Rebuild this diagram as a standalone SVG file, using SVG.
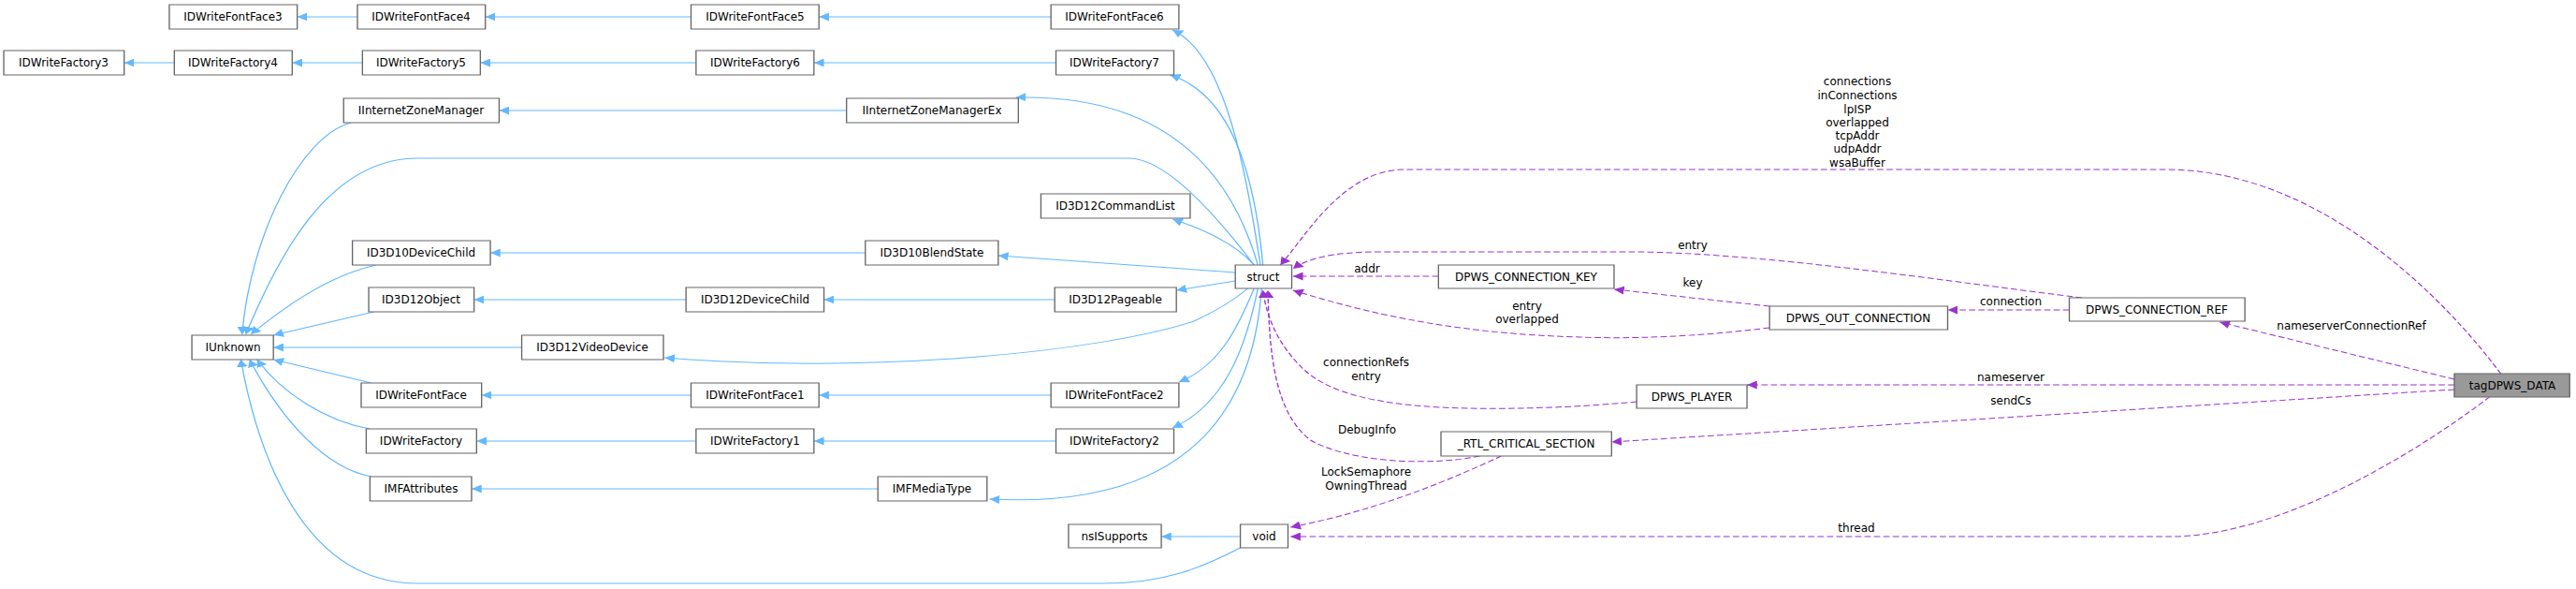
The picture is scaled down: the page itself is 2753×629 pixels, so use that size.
<svg xmlns="http://www.w3.org/2000/svg" width="2753" height="629" viewBox="0 0 2753 629">
<style>
.n rect{fill:#fff;stroke:#666;stroke-width:1}
.n rect.main{fill:#999}
text{font-family:"DejaVu Sans",sans-serif;font-size:12px;fill:#000;text-anchor:middle}
.b{fill:none;stroke:#63b8ff;stroke-width:1;marker-end:url(#ab)}
.p{fill:none;stroke:#9a32cd;stroke-width:1;stroke-dasharray:5,2.5;marker-end:url(#ap)}
</style>
<defs>
<marker id="ab" markerUnits="userSpaceOnUse" markerWidth="10" markerHeight="9" refX="8" refY="4.5" orient="auto"><path d="M0,0 L8,4.5 L0,9 Z" fill="#63b8ff"/></marker>
<marker id="ap" markerUnits="userSpaceOnUse" markerWidth="10" markerHeight="9" refX="8" refY="4.5" orient="auto"><path d="M0,0 L8,4.5 L0,9 Z" fill="#9a32cd"/></marker>
</defs>
<g transform="scale(1.3403,1)">
<g id="edges">
<path class="b" d="M285,18 L237,18"/>
<path class="b" d="M551,18 L387,18"/>
<path class="b" d="M838,18 L653,18"/>
<path class="b" d="M1005,283 C995,200 980,60 935,32"/>
<path class="b" d="M139,67 L99,67"/>
<path class="b" d="M289,67 L233,67"/>
<path class="b" d="M555,67 L383,67"/>
<path class="b" d="M842,67 L649,67"/>
<path class="b" d="M1007,283 C1000,180 980,100 933,80"/>
<path class="b" d="M675,118 L398,118"/>
<path class="b" d="M1003,283 C985,200 940,100 810,104"/>
<path class="b" d="M280,131 C240,145 200,250 193,357"/>
<path class="b" d="M1000,283 C970,230 930,169 900,169 L333,169 C260,169 220,280 196,357"/>
<path class="b" d="M1000,283 C985,260 960,245 935,234"/>
<path class="b" d="M985,291 L796,273"/>
<path class="b" d="M690,270 L391,270"/>
<path class="b" d="M300,283 C260,295 225,330 200,357"/>
<path class="b" d="M985,300 L938,310"/>
<path class="b" d="M841,320 L657,320"/>
<path class="b" d="M547,320 L378,320"/>
<path class="b" d="M298,333 L218,358"/>
<path class="b" d="M416,371 L218,371"/>
<path class="b" d="M995,308 C980,325 965,335 952,343 C880,375 700,400 530,382"/>
<path class="b" d="M1000,308 C990,340 975,390 940,408"/>
<path class="b" d="M838,422 L653,422"/>
<path class="b" d="M551,422 L384,422"/>
<path class="b" d="M296,409 L218,384"/>
<path class="b" d="M1003,308 C995,360 980,430 935,457"/>
<path class="b" d="M842,471 L649,471"/>
<path class="b" d="M555,471 L380,471"/>
<path class="b" d="M295,458 C260,450 225,420 205,384"/>
<path class="b" d="M1006,308 C1000,420 960,545 789,533"/>
<path class="b" d="M700,522 L376,522"/>
<path class="b" d="M296,509 C260,500 225,450 199,384"/>
<path class="b" d="M989,573 L926,573"/>
<path class="b" d="M989,585 C960,605 930,623 880,623 L333,623 C240,623 205,480 192,384"/>
<path class="p" d="M1994,399 C1950,320 1850,181 1727,181 L1120,181 C1070,181 1040,255 1021,283"/>
<path class="p" d="M1660,318 C1550,300 1400,269 1300,269 L1100,269 C1060,269 1042,277 1031,287"/>
<path class="p" d="M1147,295 L1031,295"/>
<path class="p" d="M1411,327 L1287,309"/>
<path class="p" d="M1411,350 C1350,360 1300,362 1260,360 C1150,356 1080,330 1031,310"/>
<path class="p" d="M1650,331 L1553,331"/>
<path class="p" d="M1957,405 L1770,344"/>
<path class="p" d="M1957,411 L1393,411"/>
<path class="p" d="M1957,416 L1285,472"/>
<path class="p" d="M1985,424 C1930,480 1820,573 1730,573 L1029,573"/>
<path class="p" d="M1180,487 C1130,500 1070,490 1045,470 C1015,440 1012,370 1011,310"/>
<path class="p" d="M1305,429 C1260,435 1210,437 1170,436 C1100,434 1060,420 1040,395 C1020,370 1010,340 1007,310"/>
<path class="p" d="M1197,487 C1160,510 1100,545 1029,563"/>
</g>
<g class="n">
<rect id="r1" x="135" y="5" width="102" height="26"/>
<rect x="285" y="5" width="102" height="26"/>
<rect x="551" y="5" width="102" height="26"/>
<rect x="838" y="5" width="102" height="26"/>
<rect x="3" y="54" width="96" height="26"/>
<rect x="139" y="54" width="94" height="26"/>
<rect x="289" y="54" width="94" height="26"/>
<rect x="555" y="54" width="94" height="26"/>
<rect x="842" y="54" width="94" height="26"/>
<rect x="274" y="105" width="124" height="26"/>
<rect x="675" y="105" width="137" height="26"/>
<rect x="830" y="207" width="119" height="26"/>
<rect x="281" y="257" width="110" height="26"/>
<rect x="690" y="257" width="106" height="26"/>
<rect x="985" y="283" width="45" height="25"/>
<rect x="294" y="307" width="84" height="26"/>
<rect x="547" y="307" width="110" height="26"/>
<rect x="841" y="307" width="97" height="26"/>
<rect x="153" y="358" width="65" height="26"/>
<rect x="416" y="358" width="113" height="26"/>
<rect x="288" y="409" width="96" height="26"/>
<rect x="551" y="409" width="102" height="26"/>
<rect x="838" y="409" width="102" height="26"/>
<rect x="292" y="458" width="88" height="26"/>
<rect x="555" y="458" width="94" height="26"/>
<rect x="842" y="458" width="94" height="26"/>
<rect x="295" y="509" width="81" height="26"/>
<rect x="700" y="509" width="87" height="26"/>
<rect x="852" y="560" width="74" height="25"/>
<rect x="989" y="560" width="38" height="25"/>
<rect x="1147" y="283" width="140" height="25"/>
<rect x="1411" y="327" width="142" height="25"/>
<rect x="1650" y="318" width="140" height="25"/>
<rect x="1305" y="411" width="88" height="25"/>
<rect x="1149" y="461" width="136" height="26"/>
<rect class="main" x="1957" y="399" width="92" height="25"/>
</g>
</g>
<g id="n-FontFace3"><text x="249" y="22">IDWriteFontFace3</text></g>
<g id="n-FontFace4"><text x="450" y="22">IDWriteFontFace4</text></g>
<g id="n-FontFace5"><text x="807" y="22">IDWriteFontFace5</text></g>
<g id="n-FontFace6"><text x="1191" y="22">IDWriteFontFace6</text></g>
<g id="n-Factory3"><text x="68" y="71">IDWriteFactory3</text></g>
<g id="n-Factory4"><text x="249" y="71">IDWriteFactory4</text></g>
<g id="n-Factory5"><text x="450" y="71">IDWriteFactory5</text></g>
<g id="n-Factory6"><text x="807" y="71">IDWriteFactory6</text></g>
<g id="n-Factory7"><text x="1191" y="71">IDWriteFactory7</text></g>
<g id="n-IZM"><text x="450" y="122">IInternetZoneManager</text></g>
<g id="n-IZMEx"><text x="996" y="122">IInternetZoneManagerEx</text></g>
<g id="n-CmdList"><text x="1192" y="224">ID3D12CommandList</text></g>
<g id="n-D10Child"><text x="450" y="274">ID3D10DeviceChild</text></g>
<g id="n-Blend"><text x="996" y="274">ID3D10BlendState</text></g>
<g id="n-struct"><text x="1350" y="300">struct</text></g>
<g id="n-D12Obj"><text x="450" y="324">ID3D12Object</text></g>
<g id="n-D12Child"><text x="807" y="324">ID3D12DeviceChild</text></g>
<g id="n-Pageable"><text x="1192" y="324">ID3D12Pageable</text></g>
<g id="n-IUnknown"><text x="249" y="375">IUnknown</text></g>
<g id="n-Video"><text x="633" y="375">ID3D12VideoDevice</text></g>
<g id="n-FontFace"><text x="450" y="426">IDWriteFontFace</text></g>
<g id="n-FontFace1"><text x="807" y="426">IDWriteFontFace1</text></g>
<g id="n-FontFace2"><text x="1191" y="426">IDWriteFontFace2</text></g>
<g id="n-Factory"><text x="450" y="475">IDWriteFactory</text></g>
<g id="n-Factory1"><text x="807" y="475">IDWriteFactory1</text></g>
<g id="n-Factory2"><text x="1191" y="475">IDWriteFactory2</text></g>
<g id="n-IMFAttr"><text x="450" y="526">IMFAttributes</text></g>
<g id="n-IMFMedia"><text x="996" y="526">IMFMediaType</text></g>
<g id="n-nsI"><text x="1191" y="577">nsISupports</text></g>
<g id="n-void"><text x="1351" y="577">void</text></g>
<g id="n-KEY"><text x="1631" y="300">DPWS_CONNECTION_KEY</text></g>
<g id="n-OUT"><text x="1986" y="344">DPWS_OUT_CONNECTION</text></g>
<g id="n-REF"><text x="2305" y="335">DPWS_CONNECTION_REF</text></g>
<g id="n-PLAYER"><text x="1808" y="428">DPWS_PLAYER</text></g>
<g id="n-RTL"><text x="1631" y="478">_RTL_CRITICAL_SECTION</text></g>
<g id="n-tag"><text x="2685" y="416">tagDPWS_DATA</text></g>
<g id="labels">
<text x="1985" y="91">connections</text>
<text x="1985" y="106">inConnections</text>
<text x="1985" y="121">lpISP</text>
<text x="1985" y="135">overlapped</text>
<text x="1985" y="149">tcpAddr</text>
<text x="1985" y="163">udpAddr</text>
<text x="1985" y="178">wsaBuffer</text>
<text x="1809" y="266">entry</text>
<text x="1461" y="291">addr</text>
<text x="1809" y="306">key</text>
<text x="1632" y="331">entry</text>
<text x="1632" y="345">overlapped</text>
<text x="2149" y="326">connection</text>
<text x="2513" y="352">nameserverConnectionRef</text>
<text x="2149" y="407">nameserver</text>
<text x="2149" y="432">sendCs</text>
<text x="1460" y="391">connectionRefs</text>
<text x="1460" y="406">entry</text>
<text x="1461" y="463">DebugInfo</text>
<text x="1460" y="508">LockSemaphore</text>
<text x="1460" y="523">OwningThread</text>
<text x="1984" y="568">thread</text>
</g>
</svg>
